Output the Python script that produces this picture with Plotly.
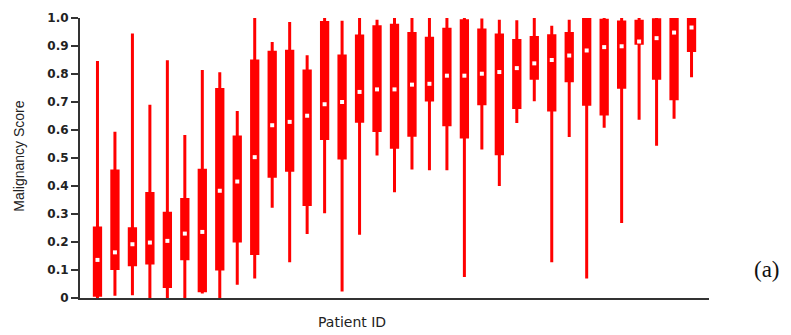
import plotly.graph_objects as go

# ---- data ----
patients = list(range(1, 36))
upper_fence = [0.846, 0.594, 0.945, 0.690, 0.849, 0.582, 0.814, 0.806, 0.668, 1.000,
               0.914, 0.986, 0.867, 1.000, 0.990, 1.000, 0.994, 1.000, 1.000, 1.000,
               1.000, 1.000, 0.998, 0.994, 0.992, 1.000, 0.972, 0.994, 1.000, 1.000,
               1.000, 1.000, 1.000, 1.000, 1.000]
q3_values = [0.250, 0.454, 0.247, 0.373, 0.303, 0.352, 0.456, 0.745, 0.575, 0.846,
             0.878, 0.881, 0.811, 0.984, 0.864, 0.936, 0.969, 0.974, 0.945, 0.928,
             0.960, 0.990, 0.957, 0.939, 0.920, 0.930, 0.937, 0.945, 1.000, 0.992,
             0.986, 0.988, 0.994, 1.000, 1.000]
medians = [0.136, 0.163, 0.192, 0.198, 0.204, 0.230, 0.236, 0.383, 0.416, 0.503,
           0.617, 0.629, 0.651, 0.692, 0.700, 0.736, 0.745, 0.745, 0.762, 0.765,
           0.794, 0.794, 0.801, 0.807, 0.821, 0.838, 0.850, 0.866, 0.884, 0.896,
           0.899, 0.916, 0.928, 0.948, 0.966]
q1_values = [0.010, 0.105, 0.119, 0.125, 0.041, 0.140, 0.026, 0.104, 0.204, 0.159,
             0.435, 0.456, 0.334, 0.570, 0.500, 0.631, 0.598, 0.538, 0.581, 0.707,
             0.619, 0.575, 0.694, 0.515, 0.680, 0.785, 0.671, 0.776, 0.692, 0.657,
             0.753, 0.910, 0.785, 0.712, 0.884]
lower_fence = [0.000, 0.008, 0.010, 0.000, 0.000, 0.000, 0.016, 0.000, 0.047, 0.070,
               0.322, 0.128, 0.229, 0.303, 0.023, 0.226, 0.509, 0.378, 0.459, 0.456,
               0.456, 0.075, 0.530, 0.400, 0.625, 0.703, 0.128, 0.575, 0.070, 0.608,
               0.268, 0.637, 0.544, 0.640, 0.788]

ytick_vals = [0, 0.1, 0.2, 0.3, 0.4, 0.5, 0.6, 0.7, 0.8, 0.9, 1.0]
ytick_text = ["0", "0.1", "0.2", "0.3", "0.4", "0.5", "0.6", "0.7", "0.8", "0.9", "1.0"]

RED = "#ff0000"

fig = go.Figure()
fig.add_trace(go.Box(
    x=patients,
    q1=q1_values, median=medians, q3=q3_values,
    lowerfence=lower_fence, upperfence=upper_fence,
    fillcolor=RED,
    line=dict(color=RED, width=3),
    whiskerwidth=0,
    width=0.36,
    boxpoints=False,
    showlegend=False,
    hoverinfo="skip",
))
fig.add_trace(go.Scatter(
    x=patients, y=medians, mode="markers",
    marker=dict(symbol="square", size=4, color="white", line=dict(width=0)),
    showlegend=False, hoverinfo="skip",
))

fig.update_layout(
    width=791, height=335,
    margin=dict(l=80, r=82, t=11, b=37),
    paper_bgcolor="white", plot_bgcolor="white",
    xaxis=dict(range=[0, 36], showgrid=False, zeroline=False, showticklabels=False,
               ticks="", showline=True, linecolor="#333333", linewidth=2),
    yaxis=dict(range=[0, 1.0], showgrid=False, zeroline=False,
               tickvals=ytick_vals, ticktext=ytick_text,
               ticks="outside", ticklen=7, tickwidth=2, tickcolor="#333333",
               showline=True, linecolor="#333333", linewidth=2,
               tickfont=dict(family="DejaVu Sans", size=12, color="#222222", weight="bold")),
    annotations=[
        dict(text="Patient ID", xref="paper", yref="paper", x=0.432, y=-0.0855,
             xanchor="center", yanchor="middle", showarrow=False,
             font=dict(family="DejaVu Sans", size=14, color="#222222")),
        dict(text="Malignancy Score", xref="paper", yref="paper", x=-0.097, y=0.508,
             xanchor="center", yanchor="middle", showarrow=False, textangle=-90,
             font=dict(family="Liberation Sans Narrow, Liberation Sans", size=14, color="#222222")),
        dict(text="(a)", xref="paper", yref="paper", x=1.092, y=0.103,
             xanchor="center", yanchor="middle", showarrow=False,
             font=dict(family="Liberation Serif", size=23, color="#111111")),
    ],
)

fig.write_html("out.html")
